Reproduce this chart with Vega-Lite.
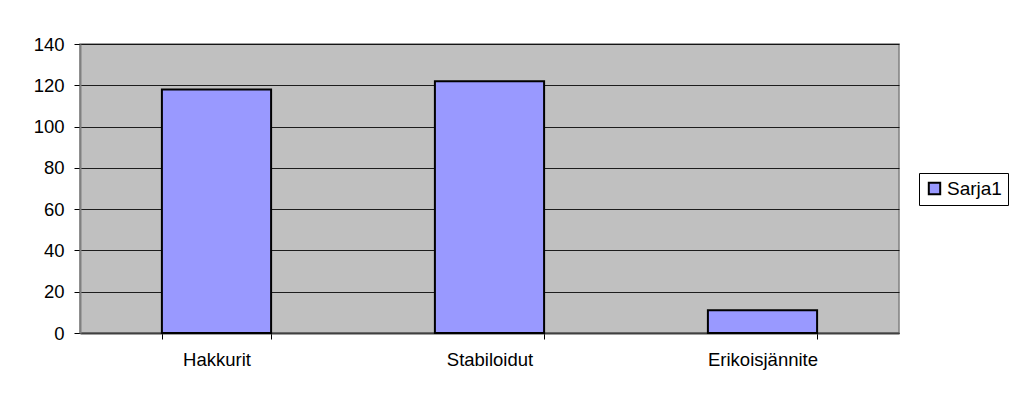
{
  "$schema": "https://vega.github.io/schema/vega-lite/v6.json",
  "width": 819,
  "height": 289,
  "autosize": {"type": "none"},
  "padding": {"left": 80, "top": 44, "right": 112, "bottom": 64},
  "background": "white",
  "config": {
    "font": "Liberation Sans",
    "view": {"fill": "#C0C0C0", "stroke": "#808080", "strokeWidth": 1.5}
  },
  "data": {
    "values": [
      {"category": "Hakkurit", "value": 118, "series": "Sarja1"},
      {"category": "Stabiloidut", "value": 122, "series": "Sarja1"},
      {"category": "Erikoisjännite", "value": 11, "series": "Sarja1"}
    ]
  },
  "mark": {"type": "bar", "stroke": "black", "strokeWidth": 2},
  "encoding": {
    "x": {
      "field": "category",
      "type": "nominal",
      "sort": null,
      "scale": {"paddingInner": 0.6, "paddingOuter": 0.3},
      "axis": {
        "title": null,
        "labelAngle": 0,
        "labelFontSize": 18.5,
        "labelColor": "black",
        "labelPadding": 11,
        "tickBand": "extent",
        "tickSize": 6,
        "tickColor": "#000000",
        "domainColor": "#404040",
        "domainWidth": 2,
        "grid": false
      }
    },
    "y": {
      "field": "value",
      "type": "quantitative",
      "scale": {"domain": [0, 140], "nice": false},
      "axis": {
        "title": null,
        "values": [0, 20, 40, 60, 80, 100, 120, 140],
        "labelFontSize": 18.5,
        "labelColor": "black",
        "labelPadding": 10,
        "tickSize": 6,
        "tickColor": "#000000",
        "domainColor": "#808080",
        "domainWidth": 2,
        "grid": true,
        "gridColor": "#000000",
        "gridWidth": 1,
        "gridOpacity": 0.85
      }
    },
    "fill": {
      "field": "series",
      "type": "nominal",
      "scale": {"range": ["#9999FF"]},
      "legend": {
        "title": null,
        "orient": "none",
        "legendX": 839,
        "legendY": 129,
        "strokeColor": "black",
        "fillColor": "white",
        "padding": 6,
        "symbolType": "square",
        "symbolSize": 130,
        "symbolStrokeColor": "black",
        "symbolStrokeWidth": 2,
        "labelFontSize": 19,
        "labelColor": "black",
        "labelOffset": 3
      }
    }
  }
}
